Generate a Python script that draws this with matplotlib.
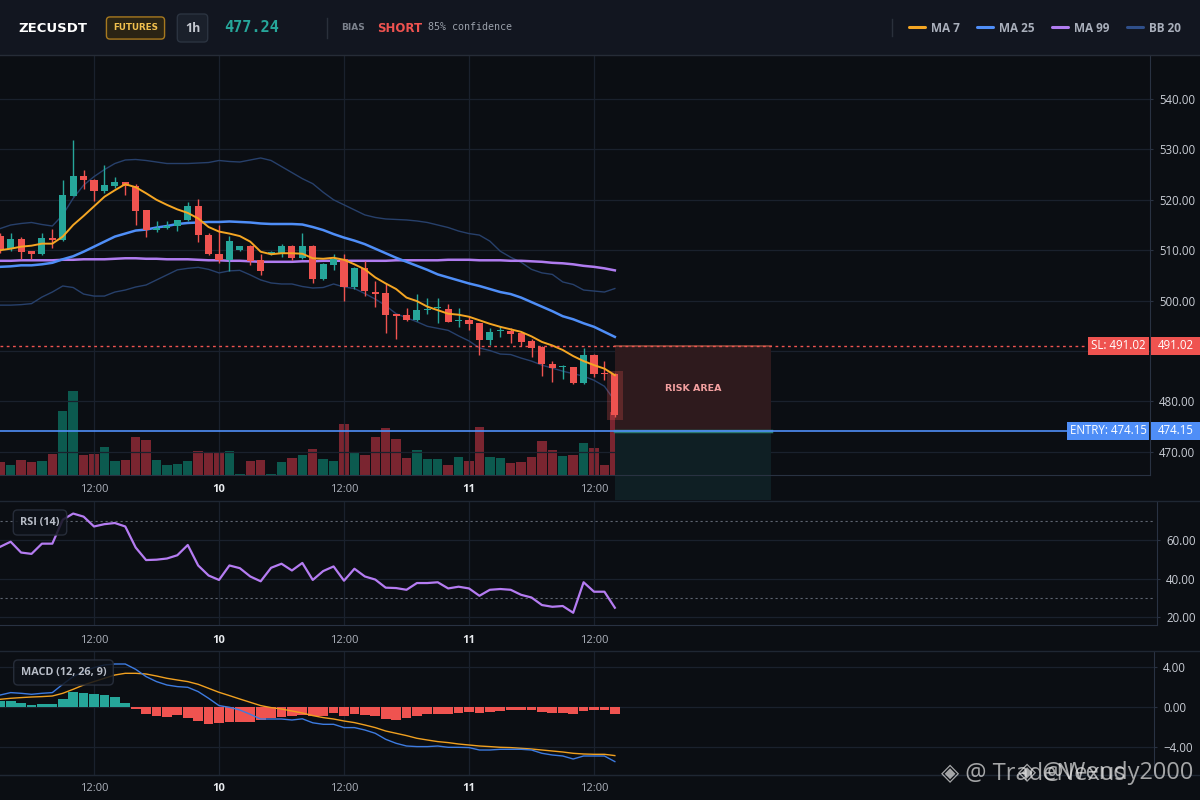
import numpy as np
import matplotlib
matplotlib.use('Agg')
import matplotlib.pyplot as plt
from matplotlib.patches import Rectangle
from matplotlib.lines import Line2D
import matplotlib.transforms as mtransforms

plt.rcParams['font.family'] = ['Open Sans', 'DejaVu Sans']

# ---- data : 1h candles, 03:00 on the 9th .. 14:00 on the 11th ----
hours = np.arange(3, 63)

opens = [512.8, 510.3, 512.2, 509.8, 509.2, 512.4, 512.0, 520.8, 524.7, 524.0,
         521.7, 522.7, 523.5, 522.7, 517.9, 514.1, 514.5, 514.9, 515.9, 518.8,
         513.1, 509.3, 508.0, 510.0, 510.8, 508.0, 509.2, 509.2, 510.8, 508.5,
         510.9, 504.2, 507.1, 508.3, 502.7, 506.4, 501.7, 501.5, 497.3, 497.1,
         496.2, 498.2, 498.5, 498.3, 495.9, 496.1, 495.5, 492.2, 493.9, 494.0,
         493.5, 492.0, 490.8, 487.5, 486.8, 486.8, 483.6, 489.3, 485.6, 485.4]
highs = [513.5, 513.4, 512.7, 509.9, 513.4, 514.2, 523.9, 531.9, 525.9, 524.2,
         526.9, 524.6, 523.6, 523.2, 518.0, 515.7, 515.7, 516.0, 519.6, 520.2,
         513.4, 515.1, 512.8, 510.9, 511.0, 509.2, 509.8, 511.2, 511.0, 513.4,
         511.0, 507.5, 509.2, 509.3, 506.6, 507.9, 503.9, 503.4, 497.3, 498.6,
         501.3, 500.6, 500.5, 499.3, 498.5, 496.8, 495.6, 494.5, 495.0, 494.6,
         493.7, 492.4, 490.9, 488.1, 487.2, 486.9, 490.5, 489.5, 488.1, 485.6]
lows = [509.5, 509.9, 508.2, 508.2, 509.0, 510.4, 511.9, 520.7, 522.1, 519.7,
        521.3, 522.4, 521.0, 515.0, 512.7, 513.6, 514.3, 513.9, 515.7, 511.6,
        509.0, 507.5, 505.8, 509.9, 507.1, 505.0, 509.1, 508.7, 508.0, 508.3,
        503.4, 504.0, 506.0, 499.9, 502.4, 501.0, 498.7, 493.6, 492.3, 496.0,
        496.0, 497.3, 495.6, 495.7, 494.8, 494.2, 489.3, 491.2, 492.7, 491.5,
        490.9, 488.9, 485.0, 483.9, 484.4, 483.4, 483.5, 484.9, 484.2, 476.9]
closes = [510.3, 512.2, 509.7, 509.2, 512.4, 512.0, 520.9, 524.7, 523.9, 521.7,
          522.9, 523.5, 522.8, 517.8, 514.1, 514.5, 514.9, 516.0, 518.8, 513.0,
          509.2, 508.0, 511.8, 510.8, 507.9, 505.8, 509.6, 510.8, 508.5, 510.9,
          504.2, 507.2, 508.3, 502.7, 506.4, 501.9, 501.3, 497.2, 497.0, 496.1,
          498.1, 498.4, 498.7, 495.8, 496.2, 495.4, 492.2, 493.8, 494.1, 493.3,
          491.8, 490.5, 487.5, 486.6, 486.9, 483.6, 489.3, 485.4, 485.4, 477.24]
# volume, arbitrary units
volume = [13, 10, 15, 13, 14, 21, 64, 84, 20, 21, 28, 14, 15, 38, 35, 15, 10, 11, 14, 24,
          23, 23, 24, 1, 14, 15, 1, 13, 17, 20, 26, 16, 14, 51, 22, 20, 38, 47, 36, 17,
          25, 16, 16, 10, 18, 14, 48, 18, 17, 12, 13, 18, 34, 25, 19, 20, 32, 27, 10, 63]

ma7 = [510.0, 510.3, 510.7, 510.9, 511.3, 511.3, 512.7, 515.0, 516.8, 518.7,
       520.6, 521.9, 523.1, 522.5, 521.3, 520.0, 519.0, 518.1, 517.4, 516.3,
       514.6, 513.7, 513.3, 512.8, 511.7, 509.7, 509.2, 509.4, 509.4, 509.3,
       508.4, 508.3, 508.5, 508.1, 507.2, 506.2, 504.6, 503.4, 502.3, 500.6,
       499.9, 498.8, 498.1, 497.4, 497.2, 496.8, 496.1, 495.4, 494.8, 494.3,
       493.8, 492.9, 491.8, 491.1, 490.2, 489.0, 488.0, 487.2, 486.5, 485.2]
ma25 = [506.7, 506.8, 507.0, 507.0, 507.2, 507.5, 508.2, 508.8, 509.7, 510.7,
        511.7, 512.7, 513.3, 513.9, 514.1, 514.5, 514.8, 515.2, 515.4, 515.5,
        515.6, 515.6, 515.7, 515.6, 515.5, 515.3, 515.2, 515.2, 515.2, 515.1,
        514.6, 514.0, 513.2, 512.5, 511.9, 511.2, 510.3, 509.4, 508.5, 507.7,
        506.9, 506.1, 505.2, 504.6, 504.0, 503.4, 502.9, 502.3, 501.7, 501.3,
        500.6, 499.7, 498.8, 497.9, 496.9, 496.3, 495.5, 494.8, 493.8, 492.8]
ma99 = [507.9, 507.9, 508.0, 508.0, 508.0, 508.0, 508.1, 508.1, 508.2, 508.2,
        508.2, 508.3, 508.4, 508.4, 508.3, 508.3, 508.2, 508.2, 508.2, 508.1,
        508.0, 508.0, 507.9, 507.9, 507.8, 507.7, 507.7, 507.7, 507.7, 507.8,
        507.8, 507.9, 507.9, 507.9, 507.9, 507.9, 507.9, 507.9, 508.0, 508.0,
        508.0, 508.0, 508.0, 508.1, 508.1, 508.1, 508.0, 508.0, 508.0, 507.9,
        507.9, 507.8, 507.7, 507.5, 507.4, 507.2, 506.9, 506.7, 506.4, 506.0]
bb_upper = [514.3, 515.0, 515.3, 515.5, 515.1, 514.8, 517.0, 520.3, 522.9, 524.6,
            526.0, 527.2, 527.9, 528.0, 527.8, 527.5, 527.2, 527.2, 527.2, 527.3,
            527.4, 527.8, 527.6, 527.5, 527.9, 528.3, 527.8, 526.6, 525.4, 524.2,
            523.2, 521.5, 520.0, 519.0, 518.0, 517.0, 516.5, 516.2, 516.1, 516.0,
            515.8, 515.5, 515.0, 514.5, 513.8, 513.3, 513.0, 511.8, 509.8, 508.6,
            507.6, 506.2, 505.5, 505.2, 503.7, 503.2, 502.1, 501.9, 501.7, 502.4]
bb_lower = [499.1, 499.1, 499.2, 499.4, 500.7, 501.7, 502.9, 502.6, 501.3, 500.9,
            500.9, 501.7, 502.1, 502.7, 503.1, 504.1, 505.1, 506.1, 506.4, 506.6,
            506.2, 505.5, 505.9, 506.0, 505.1, 504.1, 503.5, 503.3, 503.3, 502.8,
            502.5, 502.6, 503.3, 502.7, 502.4, 501.4, 500.3, 499.0, 497.4, 496.6,
            495.8, 494.9, 494.5, 494.1, 493.0, 492.0, 490.6, 490.1, 489.4, 489.3,
            488.6, 488.0, 487.2, 486.6, 486.0, 485.5, 485.0, 484.2, 483.0, 480.1]

rsi = [56.5, 59.1, 53.5, 52.8, 58.1, 58.1, 70.5, 73.7, 72.1, 67.0,
       68.2, 68.8, 67.0, 56.1, 49.6, 49.8, 50.4, 52.1, 57.4, 46.8,
       41.6, 39.3, 46.8, 45.4, 41.1, 38.6, 45.6, 47.7, 44.2, 48.1,
       39.3, 43.9, 46.3, 38.9, 45.1, 41.1, 39.5, 35.3, 35.1, 34.2,
       37.7, 37.7, 38.1, 34.9, 35.8, 34.9, 31.1, 34.2, 34.6, 34.2,
       31.6, 30.2, 26.3, 25.4, 25.8, 22.3, 38.1, 33.2, 33.2, 24.9]

macd = [1.23, 1.47, 1.40, 1.30, 1.40, 1.47, 2.30, 3.07, 3.57, 3.97,
        4.23, 4.33, 4.33, 3.80, 3.07, 2.57, 2.23, 2.07, 2.00, 1.57,
        0.90, 0.17, 0.00, -0.27, -0.70, -1.17, -1.17, -1.17, -1.27, -1.15,
        -1.55, -1.70, -1.70, -2.03, -2.03, -2.27, -2.60, -3.20, -3.60, -3.87,
        -3.93, -3.93, -3.87, -4.00, -4.00, -4.03, -4.27, -4.27, -4.20, -4.20,
        -4.20, -4.27, -4.60, -4.77, -4.87, -5.17, -4.87, -4.87, -4.87, -5.43]
signal = [0.80, 0.90, 0.97, 1.03, 1.07, 1.13, 1.40, 1.80, 2.23, 2.57,
          2.90, 3.23, 3.40, 3.40, 3.33, 3.13, 2.90, 2.73, 2.57, 2.30,
          1.90, 1.50, 1.17, 0.83, 0.50, 0.17, -0.03, -0.17, -0.37, -0.57,
          -0.83, -1.03, -1.17, -1.37, -1.53, -1.77, -2.03, -2.37, -2.60, -2.83,
          -3.10, -3.27, -3.43, -3.53, -3.67, -3.77, -3.87, -3.93, -4.00, -4.03,
          -4.10, -4.17, -4.27, -4.37, -4.47, -4.60, -4.67, -4.70, -4.70, -4.83]
hist = [0.63, 0.63, 0.40, 0.23, 0.33, 0.33, 0.83, 1.50, 1.40, 1.33,
        1.23, 1.07, 0.43, -0.20, -0.67, -0.87, -0.93, -0.77, -1.03, -1.33,
        -1.67, -1.53, -1.43, -1.43, -1.50, -1.27, -1.03, -0.93, -0.83, -0.80,
        -0.83, -0.87, -0.60, -0.83, -0.67, -0.77, -0.83, -1.17, -1.27, -1.03,
        -0.83, -0.67, -0.67, -0.67, -0.53, -0.43, -0.53, -0.43, -0.33, -0.27,
        -0.27, -0.27, -0.43, -0.53, -0.53, -0.67, -0.33, -0.27, -0.27, -0.67]

sl_price = 491.02
entry_price = 474.15
last_price = 477.24
risk_end = 77  # hour where the risk box ends

xtick_pos = [12, 24, 36, 48, 60]
xtick_lab = ['12:00', '10', '12:00', '11', '12:00']

# ---- style ----
W, H = 1200, 800
BG = '#0b0e13'
HEAD = '#121620'
GRID = '#1a212d'
SPINE = '#293242'
UP = '#26a69a'
DOWN = '#ef5350'
VUP = '#0c5a4f'
VDOWN = '#7a2530'
BLUE = '#4f8ef7'
TXT = '#c9cdd5'

opens, highs, lows, closes = map(np.array, (opens, highs, lows, closes))
up = closes >= opens
ccol = np.where(up, UP, DOWN)
vcol = np.where(up, VUP, VDOWN)

fig = plt.figure(figsize=(12, 8), dpi=100, facecolor=BG)


def box(x0, y0, x1, y1):
    return [x0 / W, 1 - y1 / H, (x1 - x0) / W, (y1 - y0) / H]


def fx(x):
    return x / W


def fy(y):
    return 1 - y / H


def xlims(right_px):
    # 12:00 on the 9th sits at 94 px, 10.417 px per hour
    return (12 - 94 / 10.417, 12 + (right_px - 94) / 10.417)


def style_ax(a, right_px):
    a.set_facecolor(BG)
    a.set_xlim(*xlims(right_px))
    for s in ['top', 'left']:
        a.spines[s].set_visible(False)
    for s in ['right', 'bottom']:
        a.spines[s].set_color(SPINE)
    a.yaxis.tick_right()
    a.grid(True, color=GRID, lw=0.9)
    a.set_axisbelow(True)
    a.tick_params(axis='y', length=2.5, color=SPINE, labelcolor=TXT, labelsize=8.3, pad=4)
    a.set_xticks(xtick_pos)
    a.set_xticklabels(xtick_lab)
    for t in a.get_xticklabels():
        if ':' in t.get_text():
            t.set_color('#aeb3bd')
        else:
            t.set_color('#e8eaee')
            t.set_fontweight('bold')


# ---- header ----
fig.patches.append(Rectangle((0, fy(55)), 1, 55 / H, transform=fig.transFigure,
                             fc=HEAD, ec='none', zorder=0))
fig.add_artist(Line2D([0, 1], [fy(55), fy(55)], color='#262c37', lw=1))
fig.text(fx(18), fy(28), 'ZECUSDT', color='white', fontsize=9.5, fontweight='heavy',
         family='DejaVu Sans', va='center')
fig.text(fx(135.5), fy(28), 'FUTURES', color='#f2c14e', fontsize=6.3, fontweight='bold',
         family='DejaVu Sans', va='center', ha='center',
         bbox=dict(boxstyle='round,pad=0.75,rounding_size=0.4', fc='#2a2414', ec='#a7791f', lw=1))
fig.text(fx(192.5), fy(28), '1h', color='#c4c8d0', fontsize=9, fontweight='bold',
         va='center', ha='center',
         bbox=dict(boxstyle='round,pad=0.6,rounding_size=0.3', fc='#1a202b', ec='#2b3340', lw=1))
fig.text(fx(224), fy(28), f'{last_price:.2f}', color=UP, fontsize=11, fontweight='bold',
         family='DejaVu Sans Mono', va='center')
fig.add_artist(Line2D([fx(327), fx(327)], [fy(18), fy(38)], color='#2a303b', lw=1))
fig.text(fx(341), fy(28), 'BIAS', color='#7b818c', fontsize=6.5, fontweight='bold',
         family='DejaVu Sans', va='center')
fig.text(fx(377), fy(28), 'SHORT', color=DOWN, fontsize=8.5, fontweight='bold',
         family='DejaVu Sans', va='center')
fig.text(fx(428), fy(27), '85% confidence', color='#9aa0aa', fontsize=7.2,
         family='DejaVu Sans Mono', va='center')

fig.add_artist(Line2D([fx(892), fx(892)], [fy(19), fy(36)], color='#2a303b', lw=1))
legend_items = [('MA 7', '#f5a623', 909), ('MA 25', '#4f8ef7', 977),
                ('MA 99', '#b07cf0', 1052), ('BB 20', '#2f4f8a', 1127)]
for name, col, x0 in legend_items:
    fig.add_artist(Line2D([fx(x0), fx(x0 + 16)], [fy(27), fy(27)], color=col, lw=2.2,
                          solid_capstyle='round'))
    fig.text(fx(x0 + 22), fy(28), name, color='#a9afbb', fontsize=8.5, fontweight='bold',
             va='center')

# ---- main price panel ----
ax = fig.add_axes(box(0, 55, 1150, 475))
vax = ax.twinx()
vax.set_facecolor(BG)
ax.set_zorder(vax.get_zorder() + 1)
ax.patch.set_visible(False)
style_ax(ax, 1150)
ax.set_ylim(465.4, 548.73)
ax.set_yticks([470, 480, 490, 500, 510, 520, 530, 540])
ax.set_yticklabels(['470.00', '480.00', '', '500.00', '510.00', '520.00', '530.00', '540.00'])
ax.tick_params(axis='x', length=0, pad=6.2, labelsize=8)

vax.bar(hours, volume, width=0.9, color=vcol, zorder=1)
vax.set_ylim(0, 420)
vax.yaxis.set_visible(False)
for s in vax.spines.values():
    s.set_visible(False)

# risk / target zones
ax.add_patch(Rectangle((hours[-1], entry_price), risk_end - hours[-1], sl_price - entry_price,
                       fc='#2e1a1d', ec='none', zorder=1))
ax.add_patch(Rectangle((hours[-1], 460.4), risk_end - hours[-1], entry_price - 460.4,
                       fc='#0f1f24', ec='none', zorder=1, clip_on=False))
ax.plot([hours[-1], risk_end], [sl_price, sl_price], color='#8a4a3a', lw=1.2, zorder=2)
ax.plot([hours[-1], risk_end], [entry_price, entry_price], color='#2b7a70', lw=2.5, zorder=2)
ax.text((hours[-1] + risk_end) / 2, (sl_price + entry_price) / 2, 'RISK AREA',
        color='#f3a0a0', fontsize=6.8, fontweight='bold', family='DejaVu Sans',
        ha='center', va='center', zorder=3)

# indicators
ax.plot(hours, bb_upper, color='#27406b', lw=1.0, zorder=3)
ax.plot(hours, bb_lower, color='#27406b', lw=1.0, zorder=3)
ax.plot(hours, ma99, color='#b07cf0', lw=1.8, zorder=4)
ax.plot(hours, ma25, color='#4f8ef7', lw=1.8, zorder=4)

# candles
ax.bar(hours[-1:], [highs[-1] - lows[-1] + 1.0], bottom=[lows[-1] - 0.5], width=1.5,
       color=DOWN, alpha=0.25, zorder=4)
ax.vlines(hours, lows, highs, colors=ccol, lw=1, zorder=5)
ax.bar(hours, np.maximum(np.abs(closes - opens), 0.15), bottom=np.minimum(opens, closes),
       width=0.68, color=ccol, zorder=5)
ax.plot(hours, ma7, color='#f5a623', lw=1.4, zorder=6)

# SL / entry lines and labels
ax.axhline(sl_price, xmax=1088 / 1150, color=DOWN, lw=1, ls=(0, (2, 2.5)), zorder=6)
ax.axhline(entry_price, xmax=1067 / 1150, color=BLUE, lw=1.2, zorder=6)
tr = mtransforms.blended_transform_factory(fig.transFigure, ax.transData)
for price, col, x0, lab in [(sl_price, DOWN, 1088, f'SL: {sl_price:.2f}'),
                            (entry_price, BLUE, 1067, f'ENTRY: {entry_price:.2f}')]:
    ax.add_patch(Rectangle((fx(x0), price - 1.85), fx(1149) - fx(x0), 3.7, transform=tr,
                           fc=col, ec='none', clip_on=False, zorder=7))
    ax.add_patch(Rectangle((fx(1151), price - 1.85), fx(1200) - fx(1151), 3.7, transform=tr,
                           fc=col, ec='none', clip_on=False, zorder=7))
    ax.text(fx((x0 + 1149) / 2), price, lab, transform=tr, color='white', fontsize=8.3,
            ha='center', va='center', clip_on=False, zorder=8)
    ax.text(fx(1175.5), price, f'{price:.2f}', transform=tr, color='white', fontsize=8.3,
            ha='center', va='center', clip_on=False, zorder=8)

# ---- RSI panel ----
ax_r = fig.add_axes(box(0, 501, 1157, 625))
style_ax(ax_r, 1157)
ax_r.set_ylim(15.96, 80.2)
ax_r.set_yticks([20, 40, 60])
ax_r.set_yticklabels(['20.00', '40.00', '60.00'])
ax_r.tick_params(axis='x', length=0, pad=7, labelsize=8)
ax_r.axhline(70, xmax=0.997, color='#5d6470', lw=0.8, ls=(0, (2, 2.5)))
ax_r.axhline(30, xmax=0.997, color='#5d6470', lw=0.8, ls=(0, (2, 2.5)))
ax_r.plot(hours, rsi, color='#b57cf2', lw=1.6, zorder=3)
ax_r.text(fx(40), fy(522.5), 'RSI (14)', transform=fig.transFigure, color='#b8bdc7',
          fontsize=7.8, fontweight='bold', ha='center', va='center', zorder=5,
          bbox=dict(boxstyle='round,pad=0.65,rounding_size=0.4', fc='#0e1219', ec='#2b3240',
                    alpha=0.85, lw=1))

# ---- MACD panel ----
ax_m = fig.add_axes(box(0, 651, 1154, 775))
style_ax(ax_m, 1154)
ax_m.set_ylim(-6.77, 5.63)
ax_m.set_yticks([-4, 0, 4])
ax_m.set_yticklabels(['\u22124.00', '0.00', '4.00'])
ax_m.tick_params(axis='x', length=0, pad=5.5, labelsize=8)
hist = np.array(hist)
ax_m.bar(hours, hist, width=0.94, color=np.where(hist >= 0, UP, DOWN), zorder=2)
ax_m.plot(hours, signal, color='#f0a020', lw=1.0, zorder=3)
ax_m.plot(hours, macd, color='#3d7be0', lw=1.0, zorder=3)
ax_m.text(fx(63.5), fy(672.5), 'MACD (12, 26, 9)', transform=fig.transFigure,
          color='#b8bdc7', fontsize=7.8, fontweight='bold', ha='center', va='center', zorder=5,
          bbox=dict(boxstyle='round,pad=0.65,rounding_size=0.4', fc='#0e1219', ec='#2b3240',
                    alpha=0.85, lw=1))

# panel separators
for yy in [501, 651, 775]:
    fig.add_artist(Line2D([0, 1], [fy(yy), fy(yy)], color='#1f2733', lw=1))

# watermark (two overlapping stamps, as in the source image)
fig.text(fx(941), fy(773), '\u25c8 @ TradeNexus', color='#e6e6e6', alpha=0.7,
         fontsize=17, va='center', ha='left')
fig.text(fx(1193), fy(773), '\u25c8 @Wendy2000', color='#e6e6e6', alpha=0.7,
         fontsize=17, va='center', ha='right')

fig.savefig('out.png', dpi=100, facecolor=BG)
